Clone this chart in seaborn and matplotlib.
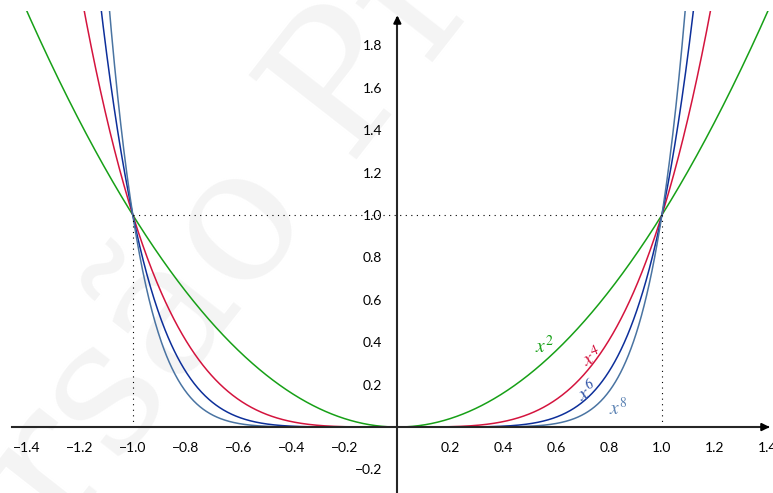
import numpy as np
import pandas as pd
import matplotlib
matplotlib.use('Agg')
import matplotlib.pyplot as plt
import seaborn as sns
from matplotlib.patches import Rectangle

# curves y = x^p
powers = [2, 4, 6, 8]
curve_names = ['x2', 'x4', 'x6', 'x8']
curve_colors = ['#17a017', '#d4143e', '#0d2f9a', '#4a74a2']
label_texts = [r'$x^{2}$', r'$x^{4}$', r'$x^{6}$', r'$x^{8}$']
label_colors = ['#17a017', '#d4143e', '#2c50a6', '#5b82b3']
label_x = [0.555, 0.735, 0.715, 0.835]
label_y = [0.385, 0.335, 0.17, 0.095]
label_rot = [0, 22, 22, 0]

x_ticks = [-1.4, -1.2, -1.0, -0.8, -0.6, -0.4, -0.2, 0.2, 0.4, 0.6, 0.8, 1.0, 1.2, 1.4]
y_ticks = [-0.2, 0.2, 0.4, 0.6, 0.8, 1.0, 1.2, 1.4, 1.6, 1.8]

xs = np.linspace(-1.5, 1.45, 1500)
frames = []
for p, name in zip(powers, curve_names):
    frames.append(pd.DataFrame({'x': xs, 'y': xs ** p, 'curve': name}))
df = pd.concat(frames, ignore_index=True)

sns.set_style('white')
plt.rcParams['font.family'] = ['Lato', 'DejaVu Sans']
plt.rcParams['mathtext.fontset'] = 'stix'

fig = plt.figure(figsize=(7.73, 4.93), dpi=100)
ax = fig.add_axes([0, 0, 1, 1])
ax.patch.set_alpha(0)

# faint watermark in the background
fig.text(0.525, 0.97, 'Versão Preliminar', rotation=52, fontsize=135,
         color='#f4f4f4', ha='center', va='center', family='DejaVu Serif', zorder=-1)

sns.lineplot(data=df, x='x', y='y', hue='curve', palette=dict(zip(curve_names, curve_colors)),
             estimator=None, legend=False, linewidth=1.1, ax=ax)

# curves stop a bit below the top edge
clip = Rectangle((-1.6, -0.5), 3.2, 2.46, transform=ax.transData)
for ln in ax.lines:
    ln.set_clip_path(clip)

ax.set_xlim(-1.502, 1.42)
ax.set_ylim(-0.311, 2.014)
ax.set_xlabel('')
ax.set_ylabel('')

# reference lines at y = 1, x = +-1
dots = (0, (1, 4))
ax.plot([-1, 1], [1, 1], color='k', lw=0.8, ls=dots)
ax.plot([-1, -1], [0, 1], color='k', lw=0.8, ls=dots)
ax.plot([1, 1], [0, 1], color='k', lw=0.8, ls=dots)

for txt, c, lx, ly, r in zip(label_texts, label_colors, label_x, label_y, label_rot):
    ax.text(lx, ly, txt, color=c, fontsize=14, ha='center', va='center', rotation=r)

# axes through the origin
for side in ['top', 'right']:
    ax.spines[side].set_visible(False)
ax.spines['left'].set_position(('data', 0))
ax.spines['bottom'].set_position(('data', 0))
ax.spines['left'].set_linewidth(1.5)
ax.spines['bottom'].set_linewidth(1.5)
ax.spines['bottom'].set_bounds(-1.457, 1.40)
ax.spines['left'].set_bounds(-0.311, 1.93)
ax.annotate('', xy=(1.418, 0), xytext=(1.38, 0),
            arrowprops=dict(arrowstyle='-|>', color='k', lw=1.5, mutation_scale=11), annotation_clip=False)
ax.annotate('', xy=(0, 1.955), xytext=(0, 1.9),
            arrowprops=dict(arrowstyle='-|>', color='k', lw=1.5, mutation_scale=11), annotation_clip=False)

ax.set_xticks(x_ticks)
ax.set_xticklabels([f'{v:.1f}'.replace('-', '\u2212') for v in x_ticks])
ax.set_yticks(y_ticks)
ax.set_yticklabels([f'{v:.1f}'.replace('-', '\u2212') for v in y_ticks])
ax.set_xticks(np.round(np.arange(-1.4, 1.41, 0.1), 2), minor=True)
ax.set_yticks(np.round(np.arange(-0.3, 1.91, 0.1), 2), minor=True)
ax.tick_params(which='major', direction='out', length=3, width=0.8, labelsize=10, pad=8, colors='k')
ax.tick_params(which='minor', direction='out', length=2, width=0.6, colors='#555555')

plt.savefig('out.png', dpi=100)
